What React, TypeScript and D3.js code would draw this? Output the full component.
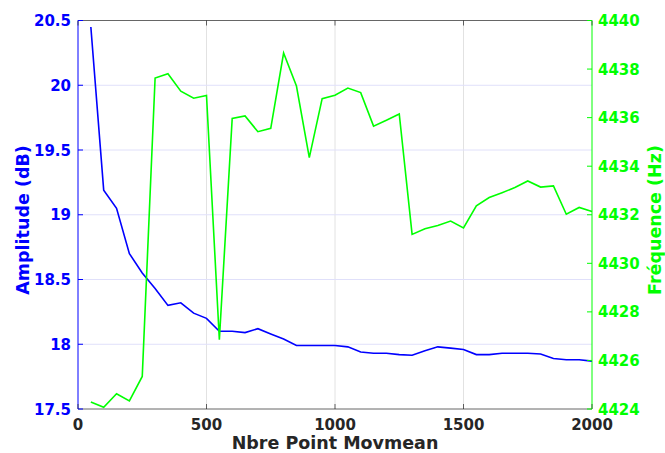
import React from "react";
import * as d3 from "d3";

const xValues = [50,100,150,200,250,300,350,400,450,500,550,600,650,700,750,800,850,900,950,1000,1050,1100,1150,1200,1250,1300,1350,1400,1450,1500,1550,1600,1650,1700,1750,1800,1850,1900,1950,2000];
const amplitude = [20.45,19.19,19.05,18.70,18.55,18.43,18.30,18.32,18.24,18.20,18.10,18.10,18.09,18.12,18.08,18.04,17.99,17.99,17.99,17.99,17.98,17.94,17.93,17.93,17.92,17.915,17.95,17.98,17.97,17.96,17.92,17.92,17.93,17.93,17.93,17.925,17.89,17.88,17.88,17.87];
const frequence = [4424.29,4424.07,4424.63,4424.33,4425.34,4437.63,4437.81,4437.09,4436.80,4436.91,4426.85,4435.97,4436.07,4435.42,4435.56,4438.66,4437.30,4434.35,4436.78,4436.92,4437.22,4437.03,4435.65,4435.89,4436.15,4431.19,4431.42,4431.56,4431.74,4431.46,4432.37,4432.71,4432.91,4433.12,4433.39,4433.14,4433.19,4432.02,4432.30,4432.13];
const xTicks = [0,500,1000,1500,2000];
const leftTicks = [17.5,18,18.5,19,19.5,20,20.5];
const rightTicks = [4424,4426,4428,4430,4432,4434,4436,4438,4440];

const W = 665, H = 453;
const L = 78, R = 592, T = 20.5, B = 409;
const BLUE = "#0000FF", GREEN = "#00FF00", GREY = "#262626";
const FONT = "'DejaVu Sans', sans-serif";

export default function App() {
  const x = d3.scaleLinear().domain([0, 2000]).range([L, R]);
  const yL = d3.scaleLinear().domain([17.5, 20.5]).range([B, T]);
  const yR = d3.scaleLinear().domain([4424, 4440]).range([B, T]);
  const lineA = d3.line<number>().x((_, i) => x(xValues[i])).y(d => yL(d));
  const lineF = d3.line<number>().x((_, i) => x(xValues[i])).y(d => yR(d));
  const fmtL = (v: number) => (Number.isInteger(v) ? String(v) : v.toFixed(1));
  const midY = 220;
  return (
    <svg width={W} height={H} style={{ position: "absolute", left: 0, top: 0, background: "#fff" }} fontFamily={FONT} fontWeight="bold">
      {/* grid */}
      {xTicks.slice(1, -1).map(t => (
        <line key={"gx" + t} x1={x(t)} x2={x(t)} y1={T} y2={B} stroke="#E2E2E2" strokeWidth={1} />
      ))}
      {leftTicks.slice(1, -1).map(t => (
        <line key={"gy" + t} x1={L} x2={R} y1={yL(t)} y2={yL(t)} stroke="#E0E0FA" strokeWidth={1} />
      ))}
      {/* lines */}
      <path d={lineA(amplitude) ?? ""} fill="none" stroke={BLUE} strokeWidth={1.6} />
      <path d={lineF(frequence) ?? ""} fill="none" stroke={GREEN} strokeWidth={1.6} />
      {/* box */}
      <line x1={L} x2={R} y1={T} y2={T} stroke={GREY} strokeWidth={1} opacity={0.7} />
      <line x1={L} x2={R} y1={B} y2={B} stroke={GREY} strokeWidth={1} opacity={0.7} />
      <line x1={L} x2={L} y1={T} y2={B} stroke={BLUE} strokeWidth={1} />
      <line x1={R} x2={R} y1={T} y2={B} stroke={GREEN} strokeWidth={1} />
      {/* x ticks */}
      {xTicks.map(t => (
        <g key={"xt" + t}>
          <line x1={x(t)} x2={x(t)} y1={B} y2={B - 5} stroke={GREY} opacity={0.7} />
          <line x1={x(t)} x2={x(t)} y1={T} y2={T + 5} stroke={GREY} opacity={0.7} />
          <text x={x(t)} y={430} textAnchor="middle" fontSize={15} fill={GREY}>{t}</text>
        </g>
      ))}
      {/* left ticks */}
      {leftTicks.map(t => (
        <g key={"lt" + t}>
          <line x1={L} x2={L + 5} y1={yL(t)} y2={yL(t)} stroke={BLUE} />
          <text x={71} y={yL(t) + 5.5} textAnchor="end" fontSize={15} fill={BLUE}>{fmtL(t)}</text>
        </g>
      ))}
      {/* right ticks */}
      {rightTicks.map(t => (
        <g key={"rt" + t}>
          <line x1={R} x2={R - 5} y1={yR(t)} y2={yR(t)} stroke={GREEN} />
          <text x={598} y={yR(t) + 5.5} textAnchor="start" fontSize={15} fill={GREEN}>{t}</text>
        </g>
      ))}
      {/* labels */}
      <text x={335} y={448.5} textAnchor="middle" fontSize={17.5} fill={GREY}>Nbre Point Movmean</text>
      <text transform={`translate(28.5,${midY}) rotate(-90)`} textAnchor="middle" fontSize={17.5} fill={BLUE}>Amplitude (dB)</text>
      <text transform={`translate(661,${midY}) rotate(-90)`} textAnchor="middle" fontSize={17.5} fill={GREEN}>Fréquence (Hz)</text>
    </svg>
  );
}
